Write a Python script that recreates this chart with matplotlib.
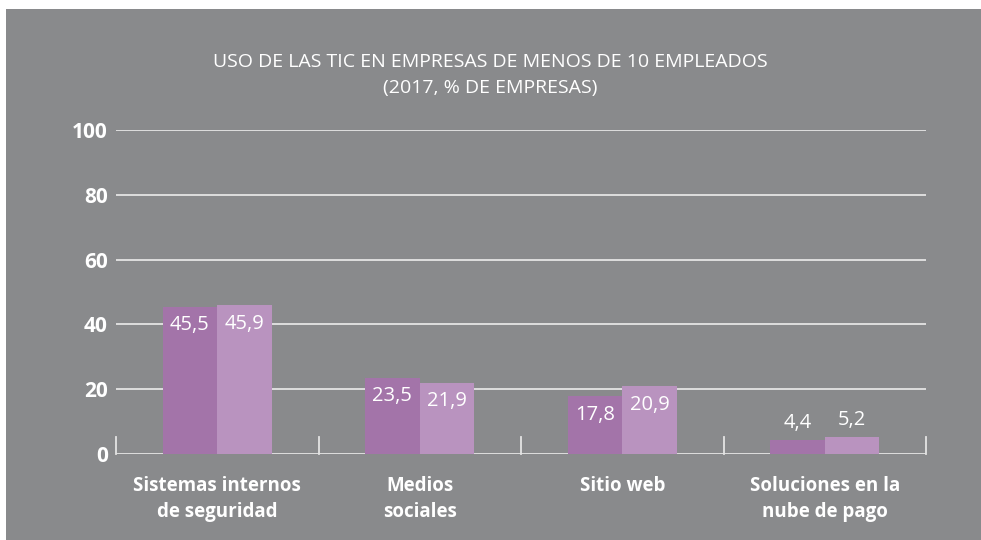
import matplotlib
matplotlib.use("Agg")
import matplotlib.pyplot as plt
from matplotlib.patches import Rectangle
import numpy as np

categories = ["Sistemas internos\nde seguridad", "Medios\nsociales", "Sitio web", "Soluciones en la\nnube de pago"]
serie_a = [45.5, 23.5, 17.8, 4.4]
serie_b = [45.9, 21.9, 20.9, 5.2]
yticks = [0, 20, 40, 60, 80, 100]

BG = "#898a8c"
C_A = "#a374a9"
C_B = "#b993bf"
GRID = "#e4e4e4"
FONT = ["Open Sans", "DejaVu Sans"]

fig = plt.figure(figsize=(9.81, 5.40), dpi=100)
fig.patch.set_facecolor("white")
fig.patches.append(Rectangle((6 / 981, 0), 1, 1 - 9 / 540, transform=fig.transFigure,
                             facecolor=BG, edgecolor="none", zorder=-10))

ax = fig.add_axes([116 / 981, (540 - 454) / 540, 810 / 981, 324 / 540])
ax.set_facecolor("none")

x = np.arange(len(categories))
w = 0.27
ax.bar(x - w / 2, serie_a, w, color=C_A, zorder=3)
ax.bar(x + w / 2, serie_b, w, color=C_B, zorder=3)


def label(xs, vals):
    for xi, v in zip(xs, vals):
        txt = f"{v:.1f}".replace(".", ",")
        if v > 10:
            ax.annotate(txt, (xi, v), xytext=(0, -6), textcoords="offset points",
                        ha="center", va="top", color="white", fontsize=14.5, family=FONT, zorder=4)
        else:
            ax.annotate(txt, (xi, v), xytext=(0, 5), textcoords="offset points",
                        ha="center", va="bottom", color="white", fontsize=14.5, family=FONT, zorder=4)


label(x - w / 2, serie_a)
label(x + w / 2, serie_b)

ax.set_xlim(-0.5, len(categories) - 0.5)
ax.set_ylim(0, 100)
for t in yticks:
    ax.axhline(t, color=GRID, lw=1.3, zorder=2)
# category separators
for s in np.arange(-0.5, len(categories), 1.0):
    ax.plot([s, s], [0, 5.3], color=GRID, lw=1.3, zorder=2, clip_on=False)

for sp in ax.spines.values():
    sp.set_visible(False)
ax.set_yticks(yticks)
ax.set_yticklabels([str(t) for t in yticks], fontsize=15, fontweight="bold", color="white", family=FONT)
ax.tick_params(axis="y", length=0, pad=6)
ax.set_xticks(x)
ax.set_xticklabels(categories, fontsize=13.5, fontweight="bold", color="white", family=FONT, linespacing=1.4)
ax.tick_params(axis="x", length=0, pad=16)

fig.text(0.5, 1 - 62 / 540, "USO DE LAS TIC EN EMPRESAS DE MENOS DE 10 EMPLEADOS",
         ha="center", va="center", color="white", fontsize=14, family=FONT)
fig.text(0.5, 1 - 88 / 540, "(2017, % DE EMPRESAS)",
         ha="center", va="center", color="white", fontsize=14, family=FONT)

fig.savefig("out.png", dpi=100, facecolor=fig.get_facecolor())
